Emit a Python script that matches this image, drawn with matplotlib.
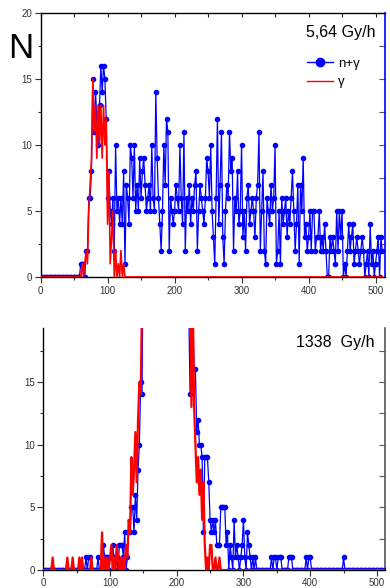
import numpy as np
import matplotlib.pyplot as plt
from matplotlib.lines import Line2D
from matplotlib.ticker import MultipleLocator

plt.rcParams['font.family'] = ['Liberation Sans', 'DejaVu Sans']

# channel numbers (every second channel)
channels = np.arange(0, 512, 2)

# 5,64 Gy/h: n+gamma counts
top_ng = ([0] * 30 + [1, 1] +
          [1, 0, 2, 2, 6, 6, 8, 15, 11, 14, 12, 10, 13, 16, 14, 16] +
          [15, 12, 6, 8, 5, 4, 6, 2, 10, 5, 6, 4, 6, 4, 8, 1] +
          [7, 6, 4, 10, 9, 6, 10, 5, 7, 5, 9, 6, 8, 9, 7, 5] +
          [6, 7, 5, 10, 6, 5, 14, 9, 6, 4, 2, 5, 10, 7, 12, 11] +
          [2, 6, 5, 4, 5, 7, 6, 5, 10, 6, 4, 11, 2, 6, 5, 7] +
          [4, 6, 5, 7, 8, 2, 5, 7, 6, 5, 4, 6, 9, 8, 6, 10] +
          [5, 3, 1, 6, 12, 4, 7, 11, 3, 1, 5, 7, 6, 11, 8, 9] +
          [2, 6, 5, 8, 4, 5, 10, 3, 5, 2, 6, 7, 4, 5, 6, 5] +
          [3, 6, 7, 11, 2, 5, 8, 2, 1, 6, 5, 4, 7, 5, 6, 10] +
          [1, 2, 5, 1, 6, 4, 5, 6, 3, 5, 4, 6, 8, 5, 2, 4] +
          [7, 1, 7, 5, 9, 3, 4, 2, 3, 5, 2, 5, 5, 2, 3, 3] +
          [5, 2, 3, 2, 4, 2, 0, 0, 3, 2, 3, 2, 1, 5, 2, 5] +
          [3, 5, 0, 1, 0, 2, 4, 2, 3, 4, 1, 2, 3, 2, 1, 2] +
          [3, 2, 0, 1, 2, 0, 4, 1, 2, 0, 1, 2, 3, 0, 3, 2])

# 5,64 Gy/h: gamma counts
top_g = ([0] * 31 + [1] +
         [0, 1, 2, 1, 5, 7, 9, 15, 11, 13, 9, 13, 10, 13, 9, 13] +
         [10, 12, 4, 8, 1, 3, 5, 0, 2, 0, 1, 0, 2, 0, 1, 0] +
         [0] * 192)

# 1338 Gy/h: n+gamma counts
bot_ng = ([0] * 32 +
          [1, 0, 1, 1, 0, 0, 0, 0, 0, 1, 0, 0, 0, 2, 1, 1] +
          [1, 0, 1, 1, 2, 1, 0, 1, 0, 2, 2, 2, 1, 3, 0, 1] +
          [3, 3, 5, 5, 3, 6, 4, 8, 10, 15, 14, 30, 45, 60, 80, 100] +
          [120, 140, 155, 170, 180, 190, 195, 200, 200, 195, 185, 175, 160, 145, 130, 110] +
          [95, 80, 68, 56, 47, 40, 34, 29, 26, 24, 23, 22, 24, 21, 14, 25] +
          [21, 16, 16, 11, 12, 10, 10, 9, 3, 9, 9, 9, 7, 4, 3, 4] +
          [3, 4, 2, 2, 2, 5, 5, 5, 5, 2, 3, 0, 2, 1, 0, 4] +
          [1, 2, 1, 0, 1, 2, 4, 1, 0, 3, 2, 1, 0, 1, 0, 1] +
          [0, 0, 0, 0, 0, 0, 0, 0, 0, 0, 0, 1, 0, 1, 1, 0] +
          [1, 1, 1, 0, 0, 0, 0, 0, 1, 1, 1, 0, 0, 0, 0, 0] +
          [0, 0, 0, 0, 0, 1, 0, 1, 1, 0, 0, 0, 0, 0, 0, 0] +
          [0] * 16 +
          [0, 1] + [0] * 14 +
          [0] * 16)

# 1338 Gy/h: gamma counts
bot_g = ([0, 0, 0, 0, 0, 0, 0, 1, 0, 0, 0, 0, 0, 0, 0, 0] +
         [0, 0, 1, 0, 0, 0, 1, 0, 0, 0, 0, 1, 0, 1, 0, 0] +
         [0, 0, 0, 0, 1, 0, 0, 0, 0, 0, 0, 0, 3, 0, 1, 0] +
         [1, 0, 1, 2, 0, 1, 0, 2, 1, 0, 1, 0, 1, 0, 2, 1] +
         [4, 3, 9, 6, 8, 11, 7, 12, 15, 14, 22, 35, 50, 70, 90, 110] +
         [130, 150, 165, 180, 190, 200, 205, 210, 205, 200, 190, 180, 165, 150, 135, 115] +
         [100, 85, 72, 60, 50, 42, 36, 31, 28, 26, 24, 23, 26, 22, 25, 13] +
         [22, 13, 10, 7, 9, 6, 8, 4, 7, 2, 0, 1, 0, 2, 2, 0] +
         [0, 1, 0, 0, 1] + [0] * 11 +
         [0] * 112)

blue = '#0000ff'
red = '#ff0000'
tick_col = '#333333'

fig = plt.figure(figsize=(3.9, 5.88), dpi=100)


def style_axes(ax, ymax, right_color, top_axis):
    ax.set_xlim(0, 514)
    ax.set_ylim(0, ymax)
    ax.xaxis.set_major_locator(MultipleLocator(100))
    ax.xaxis.set_minor_locator(MultipleLocator(50))
    ax.yaxis.set_major_locator(MultipleLocator(5))
    ax.yaxis.set_minor_locator(MultipleLocator(2.5))
    ax.tick_params(which='major', direction='out', length=4, width=0.8,
                   labelsize=7, labelcolor=tick_col, color=tick_col, pad=2)
    ax.tick_params(which='minor', direction='out', length=2.5, width=0.8, color=tick_col)
    ax.tick_params(axis='x', which='major', pad=2.5)
    ax.spines['right'].set_visible(False)
    ax.spines['top'].set_visible(False)
    ax.spines['left'].set_linewidth(1.0)
    ax.spines['bottom'].set_linewidth(1.0)

    sec = ax.secondary_yaxis('right')
    sec.yaxis.set_major_locator(MultipleLocator(5))
    sec.yaxis.set_minor_locator(MultipleLocator(2.5))
    sec.tick_params(which='both', direction='in', length=4, width=0.8,
                    color='#555555', labelright=False)
    sec.spines['right'].set_color(right_color)
    sec.spines['right'].set_linewidth(1.2)

    if top_axis:
        sect = ax.secondary_xaxis('top')
        sect.xaxis.set_major_locator(MultipleLocator(100))
        sect.xaxis.set_minor_locator(MultipleLocator(50))
        sect.tick_params(which='both', direction='in', length=3, width=0.8,
                         color='#222222', labeltop=False)
        sect.spines['top'].set_linewidth(1.0)


# upper panel
ax1 = fig.add_axes([0.104, 0.529, 0.883, 0.449])
ax1.plot(channels, top_ng, color=blue, lw=0.9, marker='o', ms=3.0, zorder=2)
ax1.plot(channels, top_g, color=red, lw=1.2, zorder=3)
style_axes(ax1, 20, blue, True)

handles = [Line2D([], [], color=blue, lw=1, marker='o', ms=6),
           Line2D([], [], color=red, lw=1)]
ax1.legend(handles, ['n+\u03b3', '\u03b3'], loc='upper left',
           bbox_to_anchor=(0.773, 0.83), frameon=False, fontsize=9.5,
           handlelength=2.0, handletextpad=0.4, labelspacing=0.45,
           borderpad=0, borderaxespad=0)

# lower panel
ax2 = fig.add_axes([0.111, 0.0306, 0.876, 0.4116])
ax2.plot(channels, bot_ng, color=blue, lw=0.9, marker='o', ms=3.0, zorder=2)
ax2.plot(channels, bot_g, color=red, lw=1.6, zorder=3)
style_axes(ax2, 19.3, '#555555', False)
ax2.set_xlim(0, 512)
ax2.tick_params(axis='x', which='major', pad=1.5)

fig.text(21 / 390, 1 - 48 / 588, 'N', fontsize=25, ha='center', va='center')
fig.text(375 / 390, 1 - 36.5 / 588, '5,64 Gy/h', fontsize=11.5, ha='right', va='baseline')
fig.text(375 / 390, 1 - 347 / 588, '1338  Gy/h', fontsize=11.5, ha='right', va='baseline')

fig.savefig('out.png', dpi=100)
